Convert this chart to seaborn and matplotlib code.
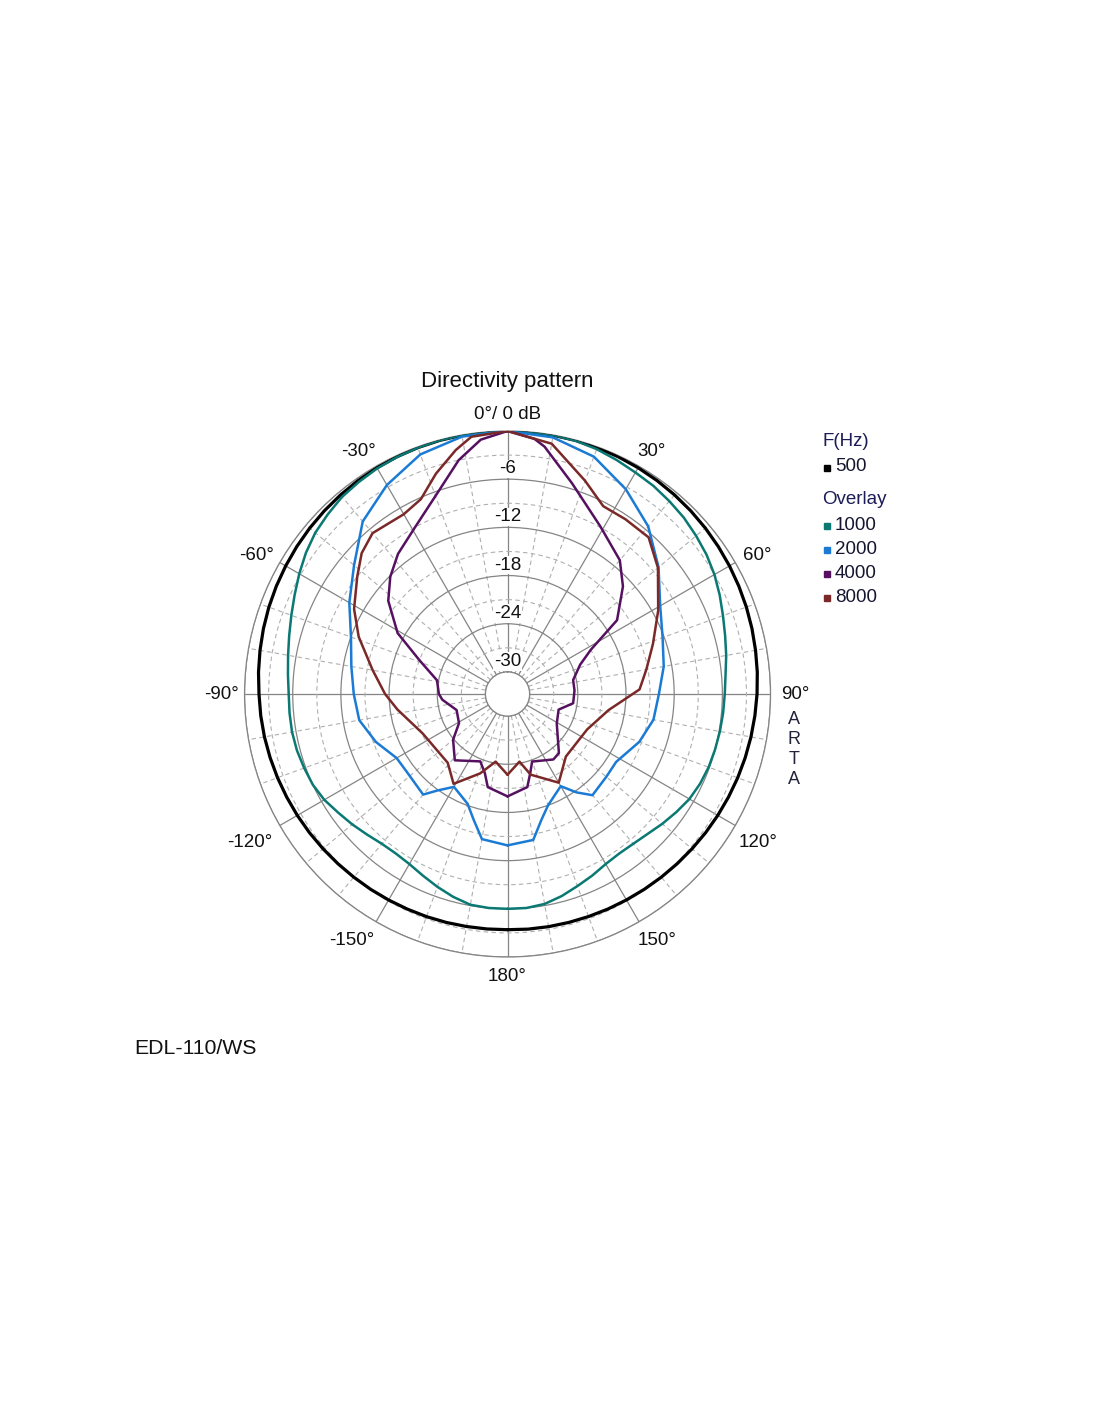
import numpy as np
import pandas as pd
import matplotlib
matplotlib.use("Agg")
import matplotlib.pyplot as plt
import seaborn as sns

# angles in degrees (0 = on axis, clockwise), levels in dB
ANG_500 = list(range(-180, 181, 5))
DB_500 = [-3.4, -3.38, -3.35, -3.3, -3.25, -3.2, -3.13, -3.05, -2.97, -2.87, -2.76, -2.64,
          -2.52, -2.4, -2.27, -2.14, -2.01, -1.9, -1.8, -1.62, -1.45, -1.28, -1.12, -0.98,
          -0.85, -0.72, -0.6, -0.49, -0.39, -0.3, -0.22, -0.15, -0.1, -0.06, -0.03, -0.01,
          0,
          -0.01, -0.03, -0.06, -0.1, -0.15, -0.22, -0.3, -0.39, -0.49, -0.6, -0.72, -0.84,
          -0.97, -1.1, -1.24, -1.39, -1.53, -1.68, -1.83, -1.97, -2.11, -2.25, -2.39, -2.52,
          -2.64, -2.76, -2.87, -2.97, -3.06, -3.14, -3.2, -3.26, -3.3, -3.33, -3.36, -3.4]

ANG_1000 = list(range(-180, 181, 5))
DB_1000 = [-6.0, -6.0, -6.1, -6.6, -7.2, -7.8, -8.3, -8.5, -8.4, -8.0, -7.5, -7.0, -6.4,
           -6.0, -5.8, -5.6, -5.5, -5.5, -5.5, -5.3, -5.0, -4.6, -4.1, -3.5, -2.8, -2.1,
           -1.5, -1.1, -0.7, -0.5, -0.3, -0.2, -0.1, -0.05, 0, 0,
           0,
           0, 0, -0.1, -0.3, -0.6, -0.9, -1.1, -1.4, -1.7, -2.1, -2.5, -3.0, -3.6, -4.2,
           -4.7, -5.1, -5.5, -5.7, -5.8, -5.9, -6.0, -6.1, -6.3, -6.6, -7.1, -7.6, -8.1,
           -8.4, -8.5, -8.3, -7.8, -7.3, -6.7, -6.2, -6.0, -6.0]

ANG_2000 = [-180, -170, -165, -160, -150, -144, -140, -127, -120, -110, -100, -90, -80,
            -70, -60, -50, -40, -30, -20, -10, 0, 10, 20, 30, 40, 50, 60, 70, 80, 90,
            100, 110, 122, 130, 140, 145, 150, 160, 165, 170, 180]
DB_2000 = [-13.9, -14.4, -16.5, -18.2, -19.4, -17.9, -16.4, -16.9, -16.8, -15.3, -14.0,
           -13.6, -13.0, -12.0, -10.0, -7.8, -4.7, -2.7, -1.0, -0.2, 0, -0.3, -1.3, -3.3,
           -5.5, -8.2, -10.8, -12.2, -13.0, -13.9, -14.3, -15.3, -16.8, -16.7, -16.3,
           -17.8, -19.5, -18.0, -16.5, -14.3, -13.9]

ANG_4000 = [-180, -168, -164, -158, -141.5, -130, -121, -107.5, -95, -90, -79, -69, -61,
            -52, -45, -38, -29, -19.4, -11.8, -6, 0, 6, 8.5, 17, 29, 40, 47, 56, 62, 68,
            78, 87, 98, 107, 121, 139, 145, 160, 164, 168, 180]
DB_4000 = [-20.0, -20.9, -22.5, -23.7, -22.2, -23.9, -25.7, -26.1, -24.6, -24.2, -23.8,
           -21.0, -17.1, -13.9, -12.1, -10.6, -9.0, -6.3, -3.0, -0.9, 0, -0.8, -1.6, -5.3,
           -8.9, -11.0, -13.1, -16.3, -21.0, -23.0, -24.4, -24.4, -24.5, -26.1, -25.6,
           -23.0, -22.8, -23.8, -22.5, -20.9, -20.0]

ANG_8000 = [-180, -170, -161, -149, -139, -115, -98, -90, -80, -69, -61, -52, -46, -40,
            -30, -24, -18, -12, -8, 0, 10, 20, 27, 34, 42, 50, 61, 71, 80, 88, 99, 114,
            137, 150, 164, 170, 180]
DB_8000 = [-22.7, -24.2, -22.3, -19.7, -21.4, -21.1, -18.9, -17.5, -15.7, -12.9, -10.9,
           -9.0, -7.5, -6.6, -6.9, -6.2, -3.9, -1.7, -0.4, 0, -1.1, -4.5, -6.5, -6.5,
           -6.5, -8.3, -11.3, -13.6, -15.2, -16.3, -20.0, -21.9, -22.1, -20.0, -22.3,
           -24.2, -22.7]

FREQS = ["500", "1000", "2000", "4000", "8000"]
COLORS = ["#000000", "#0a7873", "#1b7bd4", "#561060", "#7a2828"]
WIDTHS = [2.3, 1.8, 1.8, 1.8, 1.8]

THETA_TICKS = list(range(0, 360, 30))
THETA_LABELS = ["0°/ 0 dB", "30°", "60°", "90°", "120°", "150°", "180°",
                "-150°", "-120°", "-90°", "-60°", "-30°"]
R_LABELS = [-6, -12, -18, -24, -30]

sns.set_theme(style="white")
plt.rcParams["font.family"] = ["Liberation Sans", "DejaVu Sans"]

fig = plt.figure(figsize=(11, 14.22), dpi=100)
ax = fig.add_axes([0.2223, 0.3270, 0.4782, 0.3699], projection="polar")
ax.set_theta_zero_location("N")
ax.set_theta_direction(-1)

series = [(ANG_500, DB_500), (ANG_1000, DB_1000), (ANG_2000, DB_2000),
          (ANG_4000, DB_4000), (ANG_8000, DB_8000)]
for (ang, db), c, lw in zip(series, COLORS, WIDTHS):
    df = pd.DataFrame({"theta": np.deg2rad(ang), "db": db})
    sns.lineplot(data=df, x="theta", y="db", ax=ax, sort=False, estimator=None,
                 color=c, linewidth=lw, zorder=3)

ax.set_rorigin(-32.75)
ax.set_ylim(-30, 0)
ax.set_xlabel("")
ax.set_ylabel("")

# grid
ax.set_yticks([-30, -24, -18, -12, -6, 0])
ax.set_yticks([-27, -21, -15, -9, -3], minor=True)
ax.set_yticklabels([])
ax.set_xticks(np.deg2rad(THETA_TICKS))
ax.set_xticks(np.deg2rad([a for a in range(0, 360, 10) if a % 30]), minor=True)
ax.set_xticklabels([])
ax.grid(True, which="major", color="#858585", linestyle="-", linewidth=0.9)
ax.grid(True, which="minor", color="#b0b0b0", linestyle=(0, (4, 3)), linewidth=0.8)
ax.tick_params(which="both", length=0)
for sp in ax.spines.values():
    sp.set_color("#858585")
    sp.set_linewidth(0.9)

# angle labels placed outside the rim (angle, radius beyond 0 dB)
label_pos = [(0, 2.1), (30.8, 2.35), (61, 2.75), (90, 3.05), (120.7, 3.55), (148.7, 3.1),
             (180, 2.37), (-147.7, 3.5), (-120, 4.3), (-90, 2.93), (-61.2, 2.98),
             (-31.7, 2.68)]
for lab, (t, rr) in zip(THETA_LABELS, label_pos):
    ax.text(np.deg2rad(t), rr, lab, ha="center", va="center", fontsize=13.5,
            color="#111111", clip_on=False)

for v in R_LABELS:
    ax.text(0, v + 1.3, str(v), ha="center", va="center", fontsize=13.5, color="#111111",
            zorder=2.5, bbox=dict(facecolor="white", edgecolor="none", pad=0.6))

# texts around the chart
def fx(px):
    return px / 1100


def fy(py):
    return 1 - py / 1422


fig.text(fx(507), fy(381), "Directivity pattern", ha="center", va="center",
         fontsize=16, color="#111111")
for i, ch in enumerate("ARTA"):
    fig.text(fx(794), fy(719 + i * 20.3), ch, ha="center", va="center",
             fontsize=13, color="#22223a")
fig.text(fx(134), fy(1048), "EDL-110/WS", ha="left", va="center", fontsize=15.3,
         color="#111111")

# legend
fig.text(fx(822), fy(441), "F(Hz)", ha="left", va="center", fontsize=13.5, color="#1c1c58")
fig.text(fx(822), fy(500), "Overlay", ha="left", va="center", fontsize=13.5, color="#1c1c58")
leg_y = [467, 525, 549, 573, 597]
for f, c, yy in zip(FREQS, COLORS, leg_y):
    fig.add_artist(plt.Line2D([fx(827)], [fy(yy + 1)], transform=fig.transFigure,
                              marker="s", markersize=4.5, color=c, linestyle="none"))
    fig.text(fx(835), fy(yy), f, ha="left", va="center", fontsize=13.5, color="#151530")

fig.savefig("out.png", dpi=100, facecolor="white")
